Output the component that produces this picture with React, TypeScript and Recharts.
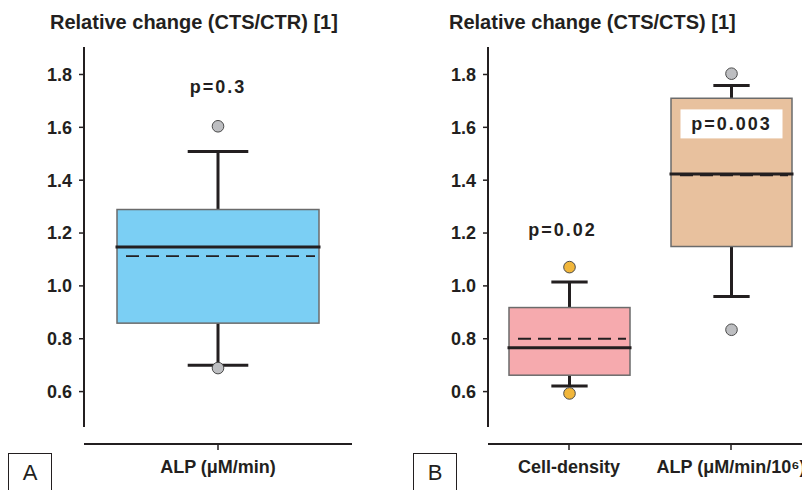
import React from 'react';
import { ComposedChart, Bar, XAxis, YAxis, ReferenceLine } from 'recharts';

// ---------- Panel A data ----------
const panelACategories = ['ALP (μM/min)'];
const panelAMin = [0.70];
const panelAQ1 = [0.859];
const panelAMedian = [1.147];
const panelAQ3 = [1.289];
const panelAMax = [1.509];
const panelAMean = [1.113];
const panelAOutliers = [[1.604, 0.689]];
const panelAPValues = ['p=0.3'];

// ---------- Panel B data ----------
const panelBCategories = ['Cell-density', 'ALP (μM/min/10⁶)'];
const panelBMin = [0.621, 0.96];
const panelBQ1 = [0.662, 1.149];
const panelBMedian = [0.766, 1.423];
const panelBQ3 = [0.918, 1.71];
const panelBMax = [1.015, 1.758];
const panelBMean = [0.80, 1.418];
const panelBOutliers = [[1.071, 0.593], [1.803, 0.834]];
const panelBPValues = ['p=0.02', 'p=0.003'];

const yTicks = [0.6, 0.8, 1.0, 1.2, 1.4, 1.6, 1.8];
const yDomain: [number, number] = [0.466, 1.904];

// styling (not data)
const panelAFill = ['#7BCFF4'];
const panelBFill = ['#F6AAAE', '#E8C19E'];
const panelAOutlierFill = ['#BDBEC1'];
const panelBOutlierFill = ['#F1B63B', '#BDBEC1'];
const panelAPLabelAt = [1.751];
const panelBPLabelAt = [1.21, 1.613];
const panelBPLabelDx = [-7, 0];
const panelBPLabelBg = [false, true];
// offset x-axis (drawn below the y-axis end)
const xAxisLineAt = 0.4017;
const xAxisTickEnd = 0.379;

const FONT = '"Liberation Sans", Arial, Helvetica, sans-serif';
const INK = '#231f20';

function buildRows(
  cats: string[], mins: number[], q1s: number[], meds: number[], q3s: number[], maxs: number[],
  means: number[], outs: number[][], ps: string[], fills: string[], oFills: string[],
  pAt: number[], pDx: number[], pBg: boolean[]
) {
  return cats.map((name, i) => ({
    name,
    box: [q1s[i], q3s[i]],
    min: mins[i], q1: q1s[i], median: meds[i], q3: q3s[i], max: maxs[i], mean: means[i],
    outliers: outs[i], p: ps[i], fill: fills[i], outlierFill: oFills[i],
    pAt: pAt[i], pDx: pDx[i], pBg: pBg[i],
  }));
}

const rowsA = buildRows(panelACategories, panelAMin, panelAQ1, panelAMedian, panelAQ3, panelAMax,
  panelAMean, panelAOutliers, panelAPValues, panelAFill, panelAOutlierFill, panelAPLabelAt, [0], [false]);
const rowsB = buildRows(panelBCategories, panelBMin, panelBQ1, panelBMedian, panelBQ3, panelBMax,
  panelBMean, panelBOutliers, panelBPValues, panelBFill, panelBOutlierFill, panelBPLabelAt, panelBPLabelDx, panelBPLabelBg);

const BoxShape = (props: any) => {
  const { x, y, width, height, payload } = props;
  if (!payload) return null;
  const q1 = payload.q1;
  const q3 = payload.q3;
  const top = Math.min(y, y + height);
  const h = Math.abs(height);
  const k = h / (q3 - q1);
  const py = (v: number) => top + (q3 - v) * k;
  const cx = x + width / 2;
  const capHalf = (width * 0.3) / 2;
  const pY = py(payload.pAt);
  const pX = cx + (payload.pDx || 0);
  return (
    <g>
      <line x1={cx} x2={cx} y1={py(q3)} y2={py(payload.max)} stroke={INK} strokeWidth={3} />
      <line x1={cx} x2={cx} y1={py(q1)} y2={py(payload.min)} stroke={INK} strokeWidth={3} />
      <line x1={cx - capHalf} x2={cx + capHalf} y1={py(payload.max)} y2={py(payload.max)} stroke={INK} strokeWidth={3} />
      <line x1={cx - capHalf} x2={cx + capHalf} y1={py(payload.min)} y2={py(payload.min)} stroke={INK} strokeWidth={3} />
      <rect x={x} y={top} width={width} height={h} fill={payload.fill} stroke="#6b6b6b" strokeWidth={1.5} />
      <line x1={x + 9} x2={x + width - 4} y1={py(payload.mean)} y2={py(payload.mean)} stroke={INK} strokeWidth={1.8} strokeDasharray="13 7" />
      <line x1={x - 1.5} x2={x + width + 1.5} y1={py(payload.median)} y2={py(payload.median)} stroke={INK} strokeWidth={3} />
      {payload.outliers.map((v: number, i: number) => (
        <circle key={i} cx={cx} cy={py(v)} r={5.8} fill={payload.outlierFill} stroke="#4a4a4a" strokeWidth={1} />
      ))}
      {payload.pBg && (
        <rect x={pX - 51} y={pY - 14.5} width={102} height={29} fill="#ffffff" />
      )}
      <text x={pX} y={pY} textAnchor="middle" dominantBaseline="central" fontFamily={FONT}
        fontSize={18} fontWeight={700} fill={INK} letterSpacing={2}>
        {payload.p}
      </text>
    </g>
  );
};

const tickStyle = { fontSize: 18, fill: INK, fontFamily: FONT, fontWeight: 700 };

function Panel({ rows, width, yAxisWidth, rightMargin, barSize }: any) {
  return (
    <ComposedChart width={width} height={490} data={rows}
      margin={{ top: 47, right: rightMargin, bottom: 0, left: 0 }}>
      <XAxis dataKey="name" type="category" height={63}
        axisLine={false} tickLine={false}
        tickSize={0} tickMargin={33} tick={tickStyle} interval={0} />
      <YAxis type="number" domain={yDomain} ticks={yTicks} allowDataOverflow width={yAxisWidth}
        tickFormatter={(v: number) => v.toFixed(1)}
        axisLine={{ stroke: INK, strokeWidth: 2 }} tickLine={{ stroke: INK, strokeWidth: 1.5 }}
        tickSize={5} tickMargin={7} tick={tickStyle} />
      <ReferenceLine y={xAxisLineAt} ifOverflow="visible" stroke={INK} strokeWidth={2} />
      {rows.map((r: any) => (
        <ReferenceLine key={r.name} ifOverflow="visible" stroke={INK} strokeWidth={1.5}
          segment={[{ x: r.name, y: xAxisLineAt }, { x: r.name, y: xAxisTickEnd }]} />
      ))}
      <Bar dataKey="box" barSize={barSize} shape={<BoxShape />} isAnimationActive={false} />
    </ComposedChart>
  );
}

const titleStyle: React.CSSProperties = {
  position: 'absolute', top: 12, fontFamily: FONT, fontWeight: 700, fontSize: 20,
  color: INK, whiteSpace: 'nowrap', lineHeight: '20px',
};
const tagStyle: React.CSSProperties = {
  position: 'absolute', top: 453, width: 44, height: 44, border: `1.5px solid ${INK}`,
  fontFamily: FONT, fontSize: 22, color: INK, display: 'flex', alignItems: 'center',
  justifyContent: 'center', boxSizing: 'border-box', paddingBottom: 4, background: '#fff',
};

export default function App() {
  return (
    <div style={{ position: 'absolute', left: 0, top: 0, width: 802, height: 490, overflow: 'hidden', background: '#fff' }}>
      <div style={{ position: 'absolute', left: 0, top: 0 }}>
        <Panel rows={rowsA} width={400} yAxisWidth={84} rightMargin={48} barSize={202} />
      </div>
      <div style={{ position: 'absolute', left: 400, top: 0 }}>
        <Panel rows={rowsB} width={412} yAxisWidth={88} rightMargin={0} barSize={121} />
      </div>
      <div style={{ ...titleStyle, left: 50 }}>Relative change (CTS/CTR) [1]</div>
      <div style={{ ...titleStyle, left: 449 }}>Relative change (CTS/CTS) [1]</div>
      <div style={{ ...tagStyle, left: 8 }}>A</div>
      <div style={{ ...tagStyle, left: 413 }}>B</div>
    </div>
  );
}
